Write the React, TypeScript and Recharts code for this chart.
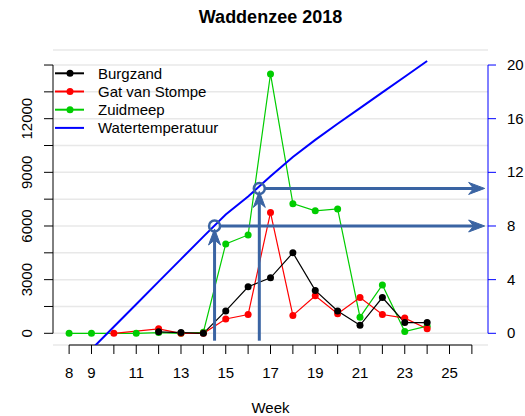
import { CartesianGrid, ComposedChart, Line, ReferenceDot, ReferenceLine, XAxis, YAxis } from "recharts";

// weekly counts per location (null = not sampled that week)
const weeks = [8, 9, 10, 11, 12, 13, 14, 15, 16, 17, 18, 19, 20, 21, 22, 23, 24];
const burgzand = [null, null, null, null, 80, 40, 0, 1250, 2600, 3100, 4500, 2400, 1250, 450, 2000, 600, 600];
const gatVanStompe = [null, null, 0, null, 250, 0, 0, 800, 1050, 6750, 1000, 2100, 1100, 2000, 1050, 850, 250];
const zuidmeep = [0, 0, null, 0, 40, 0, 60, 5000, 5500, 14500, 7250, 6850, 6950, 900, 2700, 100, 400];
const waterTemp = [-2.87, -1.19, 0.49, 2.17, 3.85, 5.53, 7.21, 8.85, 10.2, 11.7, 13.15, 14.42, 15.62, 16.79, 17.96, 19.13, 20.3];

const xTicks = [8, 9, 10, 11, 12, 13, 14, 15, 16, 17, 18, 19, 20, 21, 22, 23, 24, 25, 26];
const xLabelled = [8, 9, 11, 13, 15, 17, 19, 21, 23, 25];
const leftTicks = [0, 1500, 3000, 4500, 6000, 7500, 9000, 10500, 12000, 13500, 15000];
const leftLabelled = [0, 3000, 6000, 9000, 12000];
const rightTicks = [0, 4, 8, 12, 16, 20];

// week at which the water reaches a given temperature
const thresholdWeeks = [14.5, 16.5];
const thresholdTemps = [8, 10.8];

const legendItems = [
  { name: "Burgzand", color: "#000000", dot: true },
  { name: "Gat van Stompe", color: "#ff0000", dot: true },
  { name: "Zuidmeep", color: "#00cd00", dot: true },
  { name: "Watertemperatuur", color: "#0000ff", dot: false }
];

const data = weeks.map((week, i) => ({
  week,
  burgzand: burgzand[i],
  gatVanStompe: gatVanStompe[i],
  zuidmeep: zuidmeep[i],
  waterTemp: waterTemp[i]
}));

const font = "'Liberation Sans', Arial, sans-serif";
const arrowColor = "#3a64a3";
const leftDomain = [-654, 15840];
const rightDomain = [-0.872, 21.12];
const xDomain = [7.28, 26.72];

function arrowShape(startGap: number, endGap: number) {
  return (p: any) => {
    const { x1, y1, x2, y2 } = p;
    const len = Math.hypot(x2 - x1, y2 - y1) || 1;
    const ux = (x2 - x1) / len;
    const uy = (y2 - y1) / len;
    const px = -uy;
    const py = ux;
    const sx = x1 + ux * startGap;
    const sy = y1 + uy * startGap;
    const tx = x2 - ux * endGap;
    const ty = y2 - uy * endGap;
    const head = 16;
    const half = 6;
    const notch = 5;
    const bx = tx - ux * head;
    const by = ty - uy * head;
    const nx = tx - ux * (head - notch);
    const ny = ty - uy * (head - notch);
    const pts = `${tx},${ty} ${bx + px * half},${by + py * half} ${nx},${ny} ${bx - px * half},${by - py * half}`;
    return (
      <g>
        <line x1={sx} y1={sy} x2={nx} y2={ny} stroke={arrowColor} strokeWidth={3} />
        <polygon points={pts} fill={arrowColor} stroke={arrowColor} strokeWidth={1} strokeLinejoin="miter" />
      </g>
    );
  };
}

const plainLine = (color: string) => (p: any) => (
  <line x1={p.x1} y1={p.y1} x2={p.x2} y2={p.y2} stroke={color} strokeWidth={1} />
);

function XTick(props: any) {
  const { x, y, payload } = props;
  if (!xLabelled.includes(payload.value)) return <g />;
  return (
    <text x={x} y={y + 24} textAnchor="middle" fontSize={15} fontFamily={font} fill="#000">
      {payload.value}
    </text>
  );
}

function LeftTick(props: any) {
  const { x, y, payload } = props;
  if (!leftLabelled.includes(payload.value)) return <g />;
  const bx = x - 12;
  return (
    <text x={bx} y={y} transform={`rotate(-90 ${bx} ${y})`} textAnchor="middle" fontSize={15} fontFamily={font} fill="#000">
      {payload.value}
    </text>
  );
}

function RightTick(props: any) {
  const { x, y, payload } = props;
  return (
    <text x={x + 11} y={y + 5} textAnchor="start" fontSize={15} fontFamily={font} fill="#000">
      {payload.value}
    </text>
  );
}

export default function App() {
  return (
    <div style={{ position: "relative", width: 525, height: 416, background: "#fff" }}>
      <style>{"body{margin:0}"}</style>
      <ComposedChart width={525} height={416} data={data} margin={{ top: 50, right: 1, bottom: 21, left: 8 }}>
        <CartesianGrid yAxisId="left" vertical={false} stroke="#e8e8e8" strokeWidth={1.5} />
        <XAxis
          dataKey="week"
          type="number"
          domain={xDomain}
          allowDataOverflow
          ticks={xTicks}
          interval={0}
          axisLine={false}
          tickLine={{ stroke: "#000" }}
          tickSize={9}
          tickMargin={0}
          height={50}
          tick={(p: any) => <XTick {...p} />}
        />
        <YAxis
          yAxisId="left"
          type="number"
          domain={leftDomain}
          allowDataOverflow
          ticks={leftTicks}
          interval={0}
          axisLine={false}
          tickLine={{ stroke: "#000" }}
          tickSize={9}
          tickMargin={0}
          width={45}
          tick={(p: any) => <LeftTick {...p} />}
        />
        <YAxis
          yAxisId="right"
          orientation="right"
          type="number"
          domain={rightDomain}
          allowDataOverflow
          ticks={rightTicks}
          interval={0}
          axisLine={false}
          tickLine={{ stroke: "#0000ff" }}
          tickSize={8}
          tickMargin={0}
          width={36}
          tick={(p: any) => <RightTick {...p} />}
        />

        <ReferenceLine yAxisId="left" ifOverflow="visible" segment={[{ x: xDomain[0], y: 0 }, { x: xDomain[0], y: 15000 }]} shape={plainLine("#000")} />
        <ReferenceLine yAxisId="left" ifOverflow="visible" segment={[{ x: 8, y: leftDomain[0] }, { x: 26, y: leftDomain[0] }]} shape={plainLine("#000")} />
        <ReferenceLine yAxisId="right" ifOverflow="visible" segment={[{ x: xDomain[1], y: 0 }, { x: xDomain[1], y: 20 }]} shape={plainLine("#0000ff")} />

        <Line yAxisId="left" dataKey="zuidmeep" stroke="#00cd00" strokeWidth={1.2} connectNulls isAnimationActive={false}
          dot={{ r: 3.5, fill: "#00cd00", stroke: "none" }} activeDot={false} />
        <Line yAxisId="left" dataKey="gatVanStompe" stroke="#ff0000" strokeWidth={1.2} connectNulls isAnimationActive={false}
          dot={{ r: 3.5, fill: "#ff0000", stroke: "none" }} activeDot={false} />
        <Line yAxisId="left" dataKey="burgzand" stroke="#000000" strokeWidth={1.2} connectNulls isAnimationActive={false}
          dot={{ r: 3.5, fill: "#000000", stroke: "none" }} activeDot={false} />
        <Line yAxisId="right" dataKey="waterTemp" stroke="#0000ff" strokeWidth={2} isAnimationActive={false} dot={false} activeDot={false} />

        {thresholdWeeks.map((w, i) => (
          <ReferenceLine key={`v${i}`} yAxisId="right" segment={[{ x: w, y: -0.55 }, { x: w, y: thresholdTemps[i] }]} shape={arrowShape(0, 3)} />
        ))}
        {thresholdWeeks.map((w, i) => (
          <ReferenceLine key={`h${i}`} yAxisId="right" segment={[{ x: w, y: thresholdTemps[i] }, { x: 26.57, y: thresholdTemps[i] }]} shape={arrowShape(5.5, 0)} />
        ))}
        {thresholdWeeks.map((w, i) => (
          <ReferenceDot key={`d${i}`} yAxisId="right" x={w} y={thresholdTemps[i]} r={5.5} fill="none" stroke={arrowColor} strokeWidth={2.5} />
        ))}
      </ComposedChart>

      <svg width={525} height={416} style={{ position: "absolute", left: 0, top: 0, pointerEvents: "none" }}>
        <text x={270.5} y={23} textAnchor="middle" fontSize={18} fontWeight="bold" fontFamily={font} fill="#000">
          Waddenzee 2018
        </text>
        <text x={270.5} y={413} textAnchor="middle" fontSize={15} fontFamily={font} fill="#000">
          Week
        </text>
        {legendItems.map((item, i) => {
          const y = 73.3 + i * 18.2;
          return (
            <g key={item.name}>
              <line x1={55} x2={84} y1={y} y2={y} stroke={item.color} strokeWidth={2} />
              {item.dot && <circle cx={70} cy={y} r={3.5} fill={item.color} />}
              <text x={98} y={y + 5.5} fontSize={15} fontFamily={font} fill="#000">
                {item.name}
              </text>
            </g>
          );
        })}
      </svg>
    </div>
  );
}
